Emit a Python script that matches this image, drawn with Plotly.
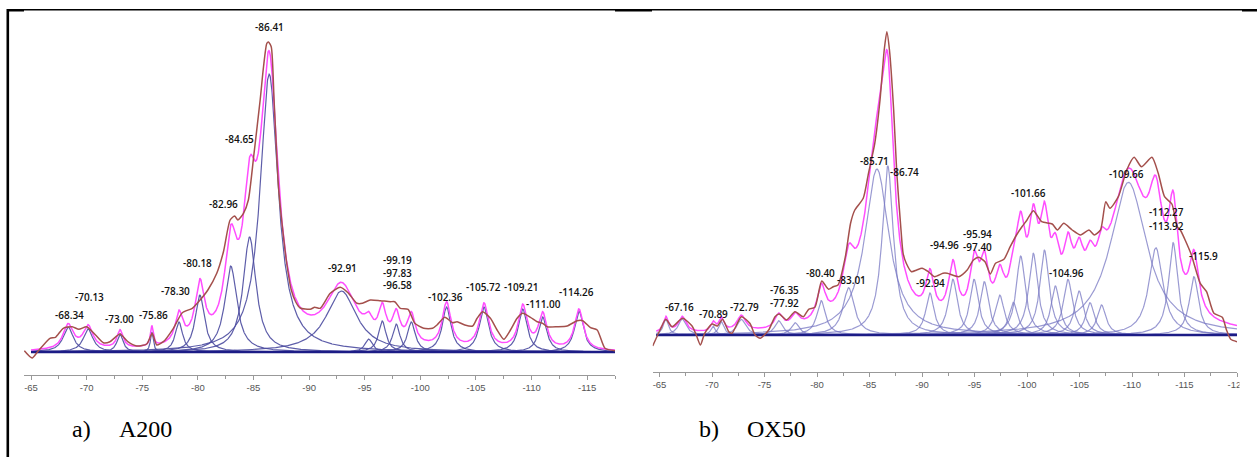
import numpy as np
import plotly.graph_objects as go

W, H = 1257, 457

# ---------------- a) A200 ----------------
a_centers = [-68.34, -70.13, -73.00, -75.86, -78.30, -80.18, -82.96, -84.65, -86.41,
             -92.91, -95.35, -96.58, -97.83, -99.19, -102.36, -105.72, -109.21, -111.00, -114.26]
a_heights = [25, 23, 18, 20, 30, 57, 86, 115, 278,
             61, 13, 31, 28, 30, 45, 45, 43, 35, 41]
a_fwhm = [1.1, 1.05, 0.65, 0.3, 0.8, 1.0, 1.3, 1.4, 1.95,
          3.3, 0.8, 0.8, 0.8, 0.85, 0.95, 1.0, 0.95, 0.9, 0.95]

a_exp_ppm = [-64.4, -65.1, -65.6, -66.7, -67.2, -67.9, -68.7, -69.3, -70.0, -70.8, -71.5, -72.1,
             -73.0, -73.7, -74.5, -75.4, -75.9, -76.3, -76.9, -77.8, -78.6, -79.5, -80.2, -80.9,
             -81.7, -82.3, -82.9, -83.3, -83.6, -84.1, -84.54, -85.05, -85.6, -85.9, -86.2, -86.35,
             -86.6, -86.85, -87.25, -87.6, -88.0, -88.4, -88.8, -89.2, -90.1, -90.5, -91.0, -91.9,
             -92.8, -93.5, -94.3, -94.8, -95.5, -96.4, -97.3, -97.7, -98.2, -98.9, -99.5, -100.3,
             -101.1, -101.5, -102.2, -102.9, -103.3, -104.0, -104.7, -105.1, -105.6, -106.3, -106.9,
             -107.5, -108.1, -108.7, -109.2, -109.9, -110.5, -111.0, -111.4, -112.3, -113.2, -114.1,
             -114.6, -115.3, -115.9, -116.6, -117.5]
a_exp_int = [1.3, -6, 0.3, 13.7, 14.7, 23.7, 25.3, 22.7, 25.3, 17, 9.3, 10.3,
             18, 10.3, 6, 8, 18.7, 7, 10.3, 23.7, 39.3, 43.7, 52, 62,
             78.7, 100.3, 132, 136, 132, 138.7, 152, 198.7, 252, 285, 308.7, 310,
             305, 252, 165, 125, 88, 62, 50, 44, 42.7, 44.7, 43.7, 58.7,
             64.7, 59.3, 48.7, 48.7, 52, 51.3, 50.3, 50.3, 43.7, 42.7, 28.7, 23.7,
             23.7, 27, 34.7, 29.3, 30.3, 27, 26, 33.7, 40.3, 33.7, 22,
             12.7, 22, 33.7, 38.7, 34.7, 30.3, 28.7, 25.3, 25.3, 26, 31.3,
             31.3, 24.3, 22, 3.7, 1.3]

a_labels = ["-68.34", "-70.13", "-73.00", "-75.86", "-78.30", "-80.18", "-82.96", "-84.65",
            "-86.41", "-92.91", "-99.19", "-97.83", "-96.58", "-102.36", "-105.72", "-109.21",
            "-111.00", "-114.26"]
a_label_x = [-68.42, -70.22, -72.91, -75.97, -77.95, -79.93, -82.27, -83.71,
             -86.40, -92.97, -97.91, -97.91, -97.91, -102.23, -105.65, -109.06,
             -111.04, -114.01]
a_label_y = [37, 55, 33, 37, 61, 89, 148, 213, 325, 84, 92, 79, 67, 55, 65, 65, 48, 60]

# ---------------- b) OX50 ----------------
b_centers = [-65.6, -67.16, -70.1, -70.89, -72.79, -76.35, -77.92, -80.40, -83.01, -85.71,
             -86.74, -90.75, -92.94, -94.96, -95.94, -97.40, -98.7, -99.4, -100.6, -101.66,
             -102.7, -103.9, -104.96, -106.0, -107.1, -109.66, -112.27, -113.92, -115.9]
b_heights = [15.7, 16, 9, 13.3, 15.7, 14.3, 12.3, 34.3, 47.3, 166,
             169, 42, 55.7, 55.7, 53.3, 40, 32.7, 79, 81.7, 85,
             49, 55.7, 44, 32.3, 30, 152.7, 87.3, 92.3, 58.3]
b_fwhm = [0.6, 0.9, 0.5, 0.6, 1.0, 0.9, 0.9, 1.0, 1.3, 2.8,
          1.3, 0.95, 1.05, 1.0, 1.0, 1.05, 1.0, 1.05, 1.05, 1.05,
          1.0, 1.05, 1.05, 1.0, 1.0, 4.2, 1.6, 1.05, 1.05]

b_exp_ppm = [-64.35, -65.05, -65.6, -66.2, -67.2, -68.1, -68.5, -68.9, -69.3, -70.0, -70.5,
             -71.0, -71.6, -71.9, -72.8, -73.6, -74.1, -74.6, -75.4, -76.0, -76.4, -77.1,
             -77.9, -78.7, -79.2, -79.8, -80.45, -81.1, -81.55, -82.0, -82.7, -83.2, -83.6,
             -84.4, -84.9, -85.5, -86.0, -86.4, -86.65, -86.9, -87.3, -87.6, -88.0, -88.2,
             -88.5, -89.0, -89.5, -90.0, -90.6, -91.2, -92.0, -92.4, -93.5, -94.3, -94.9,
             -95.4, -96.0, -96.5, -97.0, -97.8, -98.4, -99.0, -99.5, -100.0, -100.6, -101.4,
             -102.4, -102.9, -103.5, -104.3, -105.1, -105.9, -106.4, -107.0, -107.5, -107.9,
             -108.7, -109.5, -110.2, -110.9, -111.9, -112.5, -113.1, -113.8, -114.3, -114.6,
             -115.6, -116.5, -117.1, -117.8, -118.6, -119.0, -119.4, -120.0]
b_exp_int = [-11, 5, 15.7, 8.3, 16.7, 9, 0, -10, 1.7, 11, 9,
             15.7, 3.3, 1.7, 18.3, 11.7, 0, -3.3, 5, 18.3, 21, 15,
             23.3, 18.3, 25.7, 27.7, 54, 45.7, 48.3, 50, 78.3, 112, 125,
             136.7, 161.7, 191.7, 235, 285, 303.3, 285, 225, 161.7, 105, 81.7,
             71.7, 63.3, 65, 66.7, 63.3, 58.3, 61.7, 61.7, 58.3, 65, 75,
             77.7, 73.3, 61, 71.7, 75.7, 88.3, 100, 108, 115, 124.3, 113.3,
             111, 105, 111.7, 105, 100, 105, 100, 105, 133.3, 126.7,
             138.3, 165, 177.7, 168.3, 177.7, 161.7, 138.3, 131, 108.3, 105,
             81.7, 51.7, 43.3, 21.7, 17.7, 5, -4.3, -6.7]

b_labels = ["-67.16", "-70.89", "-72.79", "-76.35", "-77.92", "-80.40", "-83.01", "-85.71",
            "-86.74", "-92.94", "-94.96", "-95.94", "-97.40", "-101.66", "-104.96", "-109.66",
            "-112.27", "-113.92", "-115.9"]
b_label_x = [-66.89, -70.12, -73.14, -76.95, -76.95, -80.29, -83.30, -85.43,
             -88.29, -90.83, -92.10, -95.33, -95.33, -100.16, -103.74, -109.52,
             -113.33, -113.33, -116.83]
b_label_y = [27.7, 20.7, 27.7, 45, 31.7, 61.7, 55, 174.3,
             163.3, 52.3, 90, 100.7, 87.7, 141.7, 62.3, 160.7,
             122.7, 109, 79]

tick_vals = [-65, -70, -75, -80, -85, -90, -95, -100, -105, -110, -115, -120]
tick_text = ["-65", "-70", "-75", "-80", "-85", "-90", "-95", "-100", "-105", "-110", "-115", "-120"]


def lorentz(x, c, h, w):
    g = w / 2.0
    return h / (1.0 + ((x - c) / g) ** 2)


def px(v):
    return v / W


def py(v):
    return (H - v) / H


fig = go.Figure()

panels = [
    dict(c=a_centers, h=a_heights, w=a_fwhm, ep=a_exp_ppm, ei=a_exp_int,
         lab=a_labels, lx=a_label_x, ly=a_label_y, x0=-65.0, x1=-117.5,
         xa="x", ya="y", comp_color="rgba(75,75,160,0.9)"),
    dict(c=b_centers, h=b_heights, w=b_fwhm, ep=b_exp_ppm, ei=b_exp_int,
         lab=b_labels, lx=b_label_x, ly=b_label_y, x0=-64.7, x1=-120.0,
         xa="x2", ya="y2", comp_color="rgba(120,120,195,0.75)"),
]

annotations = []
for p in panels:
    xs = np.linspace(p["x0"], p["x1"], 3000)
    total = np.zeros_like(xs)
    for c, h, w in zip(p["c"], p["h"], p["w"]):
        yv = lorentz(xs, c, h, w)
        total += yv
        fig.add_trace(go.Scatter(x=xs, y=yv, mode="lines", xaxis=p["xa"], yaxis=p["ya"],
                                 line=dict(color=p["comp_color"], width=1.2),
                                 hoverinfo="skip", showlegend=False))
    fig.add_trace(go.Scatter(x=[p["x0"], p["x1"]], y=[0, 0], mode="lines",
                             xaxis=p["xa"], yaxis=p["ya"],
                             line=dict(color="#1c1c86", width=2.6),
                             hoverinfo="skip", showlegend=False))
    fig.add_trace(go.Scatter(x=xs, y=total, mode="lines", xaxis=p["xa"], yaxis=p["ya"],
                             line=dict(color="#ff4dff", width=1.5),
                             hoverinfo="skip", showlegend=False))
    fig.add_trace(go.Scatter(x=p["ep"], y=p["ei"], mode="lines", xaxis=p["xa"], yaxis=p["ya"],
                             line=dict(color="#a4504c", width=1.5, shape="spline", smoothing=0.6),
                             hoverinfo="skip", showlegend=False))
    for t, lx, ly in zip(p["lab"], p["lx"], p["ly"]):
        annotations.append(dict(x=lx, y=ly, xref=p["xa"], yref=p["ya"], text=t,
                                showarrow=False, xanchor="center", yanchor="middle",
                                font=dict(family="Open Sans", size=10, color="#111", weight=600)))

# axis titles
annotations.append(dict(x=-90.0, y=-45, xref="x", yref="y", text="f1 (ppm)", showarrow=False,
                        yanchor="middle", font=dict(family="Liberation Sans", size=10, color="#555")))
annotations.append(dict(x=-90.0, y=-60, xref="x2", yref="y2", text="f1 (ppm)", showarrow=False,
                        yanchor="middle", font=dict(family="Liberation Sans", size=10, color="#555")))

# captions
cap_font = dict(family="Liberation Serif", size=24, color="#000")
for txt, x in [("a)", 70), ("A200", 117), ("b)", 697), ("OX50", 745)]:
    annotations.append(dict(x=px(x), y=py(429), xref="paper", yref="paper", text=txt,
                            showarrow=False, xanchor="left", yanchor="middle", font=cap_font))

axis_common = dict(showgrid=False, zeroline=False, showline=True, linecolor="#999", linewidth=1,
                   ticks="outside", ticklen=4, tickcolor="#999", tickmode="array", automargin=False,
                   tickfont=dict(family="Liberation Sans", size=9.5, color="#555"),
                   minor=dict(ticks="outside", ticklen=3, tickcolor="#999", tickmode="array",
                              tickvals=[v - 2.5 for v in tick_vals]))

fig.update_layout(
    width=W, height=H, autosize=False, margin=dict(l=0, r=0, t=0, b=0, pad=0),
    paper_bgcolor="white", plot_bgcolor="white", showlegend=False, hovermode=False,
    xaxis=dict(domain=[px(24), px(615)], range=[-64.37, -117.5], anchor="y",
               tickvals=tick_vals[:-1], ticktext=tick_text[:-1], **axis_common),
    yaxis=dict(domain=[py(375), py(15)], range=[-23, 337], visible=False, automargin=False),
    xaxis2=dict(domain=[px(652.7), px(1237)], range=[-64.35, -120.0], anchor="y2",
                tickvals=tick_vals, ticktext=tick_text, **axis_common),
    yaxis2=dict(domain=[py(371.7), py(15)], range=[-36.7, 320], visible=False, automargin=False),
    annotations=annotations,
)

shapes = [
    dict(type="line", xref="paper", yref="paper", x0=px(7), x1=1, y0=py(9.7), y1=py(9.7),
         line=dict(color="black", width=1.5)),
    dict(type="line", xref="paper", yref="paper", x0=px(7.8), x1=px(7.8), y0=py(9), y1=0,
         line=dict(color="black", width=2.6)),
]
for a, b in [(7, 24), (615, 652), (1242, 1257)]:
    shapes.append(dict(type="rect", xref="paper", yref="paper", x0=px(a), x1=px(b),
                       y0=py(11.5), y1=py(9), fillcolor="black", line=dict(width=0)))
shapes.append(dict(type="rect", xref="paper", yref="paper", x0=px(1239.5), x1=1,
                   y0=py(457), y1=py(376), fillcolor="white", line=dict(width=0), layer="above"))
fig.update_layout(shapes=shapes)

post = ("document.documentElement.style.margin='0';document.documentElement.style.overflow='hidden';"
        "document.body.style.margin='0';document.body.style.overflow='hidden';"
        "var gd=document.getElementById('{plot_id}');"
        "Plotly.relayout(gd,{width:1257,height:457,autosize:false});")

fig.write_html("out.html", config={"displayModeBar": False, "responsive": False},
               post_script=post)
